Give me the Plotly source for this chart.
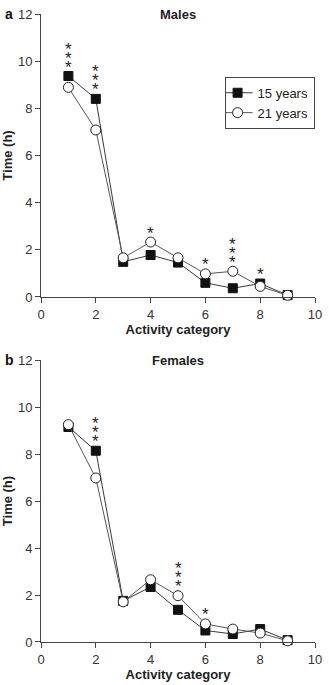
import plotly.graph_objects as go

categories = [1, 2, 3, 4, 5, 6, 7, 8, 9]

males_15 = [9.37, 8.40, 1.49, 1.78, 1.46, 0.60, 0.37, 0.57, 0.08]
males_21 = [8.89, 7.08, 1.66, 2.33, 1.66, 0.98, 1.09, 0.45, 0.07]
females_15 = [9.15, 8.14, 1.75, 2.34, 1.37, 0.49, 0.34, 0.55, 0.08]
females_21 = [9.25, 6.98, 1.71, 2.65, 1.97, 0.77, 0.55, 0.38, 0.05]

# significance stars: category -> number of stars
males_stars = {1: 3, 2: 3, 4: 1, 6: 1, 7: 3, 8: 1}
females_stars = {2: 3, 5: 3, 6: 1}

x_ticks = [0, 2, 4, 6, 8, 10]
y_ticks = [0, 2, 4, 6, 8, 10, 12]

FONT = "Liberation Sans, Arial, sans-serif"
LINE = "#3a3a3a"

fig = go.Figure()

panels = [
    ("x", "y", males_15, males_21, males_stars, "Males", "a", True),
    ("x2", "y2", females_15, females_21, females_stars, "Females", "b", False),
]

annotations = []
for xa, ya, s15, s21, stars, title, letter, show in panels:
    fig.add_trace(go.Scatter(
        x=categories, y=s15, mode="lines+markers", name="15 years",
        xaxis=xa, yaxis=ya, showlegend=show, cliponaxis=False,
        line=dict(color=LINE, width=1),
        marker=dict(symbol="square", size=9, color="#111111",
                    line=dict(color="#111111", width=1)),
    ))
    fig.add_trace(go.Scatter(
        x=categories, y=s21, mode="lines+markers", name="21 years",
        xaxis=xa, yaxis=ya, showlegend=show, cliponaxis=False,
        line=dict(color="#555555", width=1),
        marker=dict(symbol="circle", size=10, color="white",
                    line=dict(color="#222222", width=1)),
    ))
    for cat, n in stars.items():
        i = categories.index(cat)
        top = max(s15[i], s21[i])
        for k in range(n):
            annotations.append(dict(
                x=cat, y=top, xref=xa, yref=ya, text="*", showarrow=False,
                yanchor="middle", yshift=9 + 9 * k,
                font=dict(family=FONT, size=17, color="#222222"),
            ))
    annotations.append(dict(
        x=5, y=12, xref=xa, yref=ya, text="<b>" + title + "</b>",
        showarrow=False, yanchor="middle",
        font=dict(family=FONT, size=13, color="#222222"),
    ))
    annotations.append(dict(
        x=0, y=12, xref="paper", yref=ya, text="<b>" + letter + "</b>",
        showarrow=False, xanchor="left", yanchor="middle", xshift=-38,
        font=dict(family=FONT, size=14, color="#111111"),
    ))

axis_common = dict(
    showline=True, linecolor="#444444", linewidth=1,
    ticks="outside", ticklen=5, tickcolor="#444444",
    showgrid=False, zeroline=False, automargin=False,
    tickfont=dict(family=FONT, size=13, color="#333333"),
)
title_font = dict(family=FONT, size=13, color="#222222")

fig.update_layout(
    width=329, height=685,
    margin=dict(l=41, r=14, t=14, b=43),
    plot_bgcolor="white", paper_bgcolor="white",
    annotations=annotations,
    xaxis=dict(domain=[0, 1], range=[0, 10], tickvals=x_ticks, anchor="y",
               title=dict(text="<b>Activity category</b>", standoff=4, font=title_font),
               **axis_common),
    yaxis=dict(domain=[0.5494, 1], range=[0, 12], tickvals=y_ticks, anchor="x",
               title=dict(text="<b>Time (h)</b>", standoff=6, font=title_font),
               **axis_common),
    xaxis2=dict(domain=[0, 1], range=[0, 10], tickvals=x_ticks, anchor="y2",
                title=dict(text="<b>Activity category</b>", standoff=4, font=title_font),
                **axis_common),
    yaxis2=dict(domain=[0, 0.449], range=[0, 12], tickvals=y_ticks, anchor="x2",
                title=dict(text="<b>Time (h)</b>", standoff=6, font=title_font),
                **axis_common),
    legend=dict(
        x=0.67, y=0.9, xanchor="left", yanchor="top",
        bordercolor="#444444", borderwidth=1, bgcolor="white",
        font=dict(family=FONT, size=13, color="#222222"),
        tracegroupgap=0, itemwidth=30, indentation=-8,
    ),
)

fig.write_html("out.html", config={"displayModeBar": False},
               post_script="document.body.style.margin='0';")
